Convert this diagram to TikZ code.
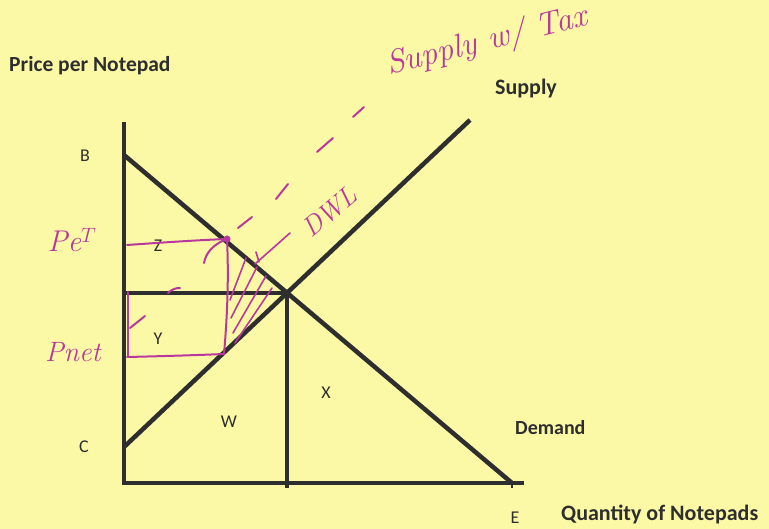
\documentclass[tikz,border=0pt]{standalone}
\usepackage{fontspec}
\setmainfont{Carlito}
\newfontfamily\handfont{Latin Modern Roman}
\definecolor{paper}{HTML}{FCF9A6}
\definecolor{ink}{HTML}{2E2E2E}
\definecolor{pen}{HTML}{B8399B}
\tikzset{
  axisline/.style={draw=ink, line width=4.5pt},
  curve/.style={draw=ink, line width=4.5pt},
  lbl/.style={text=ink, font=\fontsize{18}{19}\selectfont, inner sep=0pt},
  blbl/.style={text=ink, font=\fontsize{21.5}{22}\selectfont\bfseries, inner sep=0pt, anchor=west},
  penline/.style={draw=pen, line width=2pt, line cap=round, line join=round},
  hand/.style={text=pen, font=\handfont\itshape, inner sep=0pt}
}
\begin{document}
\begin{tikzpicture}[x=1pt,y=-1pt]
\useasboundingbox (0,0) rectangle (769,529);
\fill[paper] (0,0) rectangle (769,529);

% key points
\coordinate (Top) at (124,122);
\coordinate (O) at (124,483);
\coordinate (Xend) at (524,483);
\coordinate (Bp) at (124,155);
\coordinate (Ep) at (512,483);
\coordinate (Cp) at (124,447);
\coordinate (Sp) at (470,120);
\coordinate (Base) at (0,488);
\coordinate (Eq) at (intersection of Bp--Ep and Cp--Sp);
\coordinate (Pe) at (O |- Eq);
\coordinate (Qb) at (Eq |- Base);

% axes
\draw[axisline] (Top) -- (O) -- (Xend);
% demand and supply
\draw[curve] (Bp) -- (Ep);
\draw[curve] (Cp) -- (Sp);
% equilibrium lines
\draw[axisline, line width=4pt] (Pe) -- (Eq);
\draw[axisline, line width=4pt] (Eq) -- (Qb);
\draw[ink, line width=2pt] (Ep) -- ++(0,5);

% labels
\node[blbl] (ylab) at (9,66) {Price per Notepad};
\node[blbl, font=\fontsize{22}{23}\selectfont\bfseries] (slab) at (495,89) {Supply};
\node[lbl] (Blab) at (85,156) {B};
\node[lbl] (Clab) at (84,447) {C};
\node[lbl] (Elab) at (515,518) {E};
\node[lbl] (Zlab) at (158,246) {Z};
\node[lbl] (Ylab) at (158,339) {Y};
\node[lbl] (Wlab) at (229,422) {W};
\node[lbl] (Xlab) at (326,393) {X};
\node[blbl, font=\fontsize{20}{21}\selectfont\bfseries] (dlab) at (515,428) {Demand};
\node[blbl, font=\fontsize{22}{23}\selectfont\bfseries] (qlab) at (561,514) {Quantity of Notepads};

% magenta annotations
\coordinate (Dt) at (227,239);
\coordinate (Dd) at (224,354);
\fill[pen] (Dt) circle (3.5pt);
\draw[penline] (127,245) .. controls (170,242) and (200,240) .. (Dt);
\draw[penline] (Dt) .. controls (229,280) and (227,320) .. (Dd);
\draw[penline] (127,357) .. controls (170,356) and (200,355) .. (Dd);
\draw[penline] (128,292) -- (128,357);
\draw[penline] (130,328) -- (145,316);
\draw[penline] (168,293) .. controls (172,289) and (176,288) .. (180,288);
\draw[penline] (204,263) .. controls (206,252) and (214,244) .. (Dt);
% dashed supply w/ tax
\draw[penline] (238,228) -- (252,217);
\draw[penline] (276,199) -- (288,184);
\draw[penline] (317,152) -- (333,138);
\draw[penline] (353,117) -- (364,107);
% hatching
\draw[penline, line width=1.6pt] (230,300) -- (246,258);
\draw[penline, line width=1.6pt] (231,318) -- (257,267);
\draw[penline, line width=1.6pt] (233,333) -- (266,276);
\draw[penline, line width=1.6pt] (235,343) -- (272,288);
\draw[penline, line width=1.6pt] (255,264) -- (290,233);
\draw[penline, line width=1.6pt] (256,252) -- (259,262);
% handwritten labels
\node[hand, rotate=14, font=\handfont\itshape\fontsize{33}{33}\selectfont] (tax) at (487,42) {Supply w/ Tax};
\node[hand, rotate=40, font=\handfont\itshape\fontsize{27}{27}\selectfont] (dwl) at (330,212) {DWL};
\node[hand, font=\handfont\itshape\fontsize{30}{30}\selectfont] (pet) at (72,240) {Pe$^{T}$};
\node[hand, font=\handfont\itshape\fontsize{28}{28}\selectfont] (pnet) at (73,352) {Pnet};
\end{tikzpicture}
\end{document}
